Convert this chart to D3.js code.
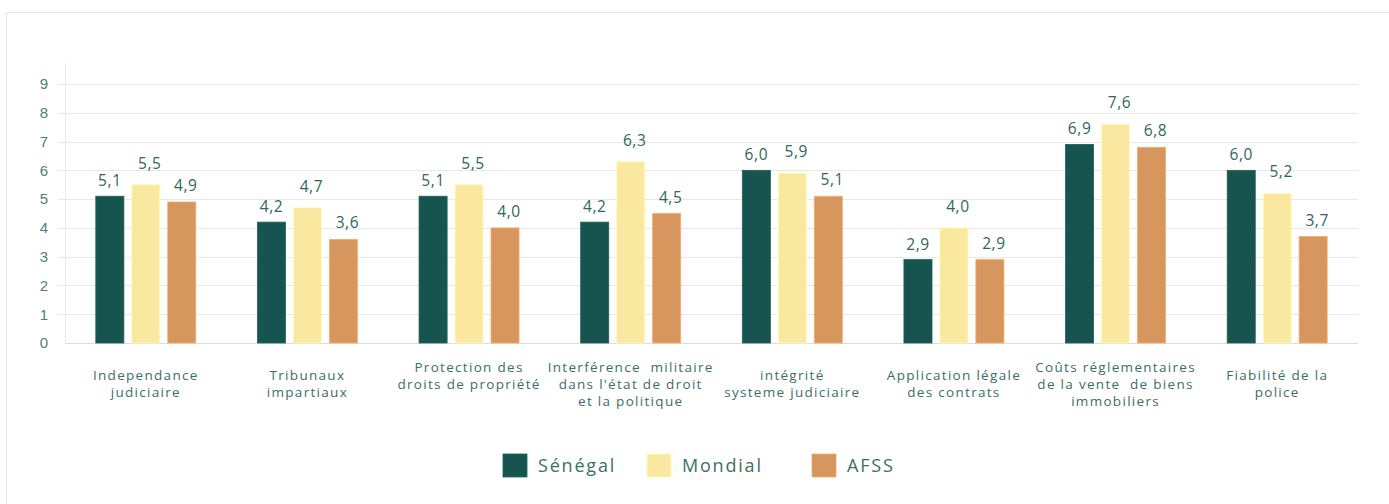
<!DOCTYPE html>
<html lang="fr">
<head>
    <meta charset="UTF-8">
    <title>Indicateurs - Sénégal, Mondial, AFSS</title>
    <script src="https://d3js.org/d3.v7.min.js"></script>
    <style>
        body { margin: 0; background: #fff; }
        svg { display: block; font-family: "Open Sans", sans-serif; }
        text { white-space: pre; }
    </style>
</head>
<body>
<div id="chart"></div>
<script>
    // data
    const categories = [
        ["Independance", "judiciaire"],
        ["Tribunaux", "impartiaux"],
        ["Protection des", "droits de propriété", ""],
        ["Interférence  militaire", "dans l'état de droit", "et la politique"],
        ["intégrité", "systeme judiciaire"],
        ["Application légale", "des contrats"],
        ["Coûts réglementaires", "de la vente  de biens", "immobiliers"],
        ["Fiabilité de la", "police"]
    ];
    const seriesNames = ["Sénégal", "Mondial", "AFSS"];
    const senegal = [5.1, 4.2, 5.1, 4.2, 6.0, 2.9, 6.9, 6.0];
    const mondial = [5.5, 4.7, 5.5, 6.3, 5.9, 4.0, 7.6, 5.2];
    const afss    = [4.9, 3.6, 4.0, 4.5, 5.1, 2.9, 6.8, 3.7];
    const yTicks = [0, 1, 2, 3, 4, 5, 6, 7, 8, 9];

    const colors = ["#18544f", "#fbe8a0", "#d7965d"];
    const labelOffset = [10, 16, 11];   // Excel-ish label placement
    const TEXT = "#3c6e68";

    const W = 1389, H = 504;
    const svg = d3.select("#chart").append("svg")
        .attr("width", W).attr("height", H);

    // card
    svg.append("rect")
        .attr("x", 6.5).attr("y", 12.5)
        .attr("width", W + 20).attr("height", H + 20)
        .attr("fill", "#fff").attr("stroke", "#e4e4e4");

    const left = 65, right = 1358, bottom = 343;
    const y = d3.scaleLinear().domain([0, 9]).range([bottom, 84]);
    const x0 = d3.scaleBand().domain(d3.range(categories.length)).range([left, right]);
    const x1 = d3.scaleBand().domain(seriesNames).range([x0.bandwidth() / 2 - 50, x0.bandwidth() / 2 + 50])
        .paddingInner(0.22);

    // gridlines
    svg.append("g").selectAll("line")
        .data(yTicks.slice(1))
        .join("line")
        .attr("x1", left - 7).attr("x2", right)
        .attr("y1", d => Math.round(y(d)) + 0.5).attr("y2", d => Math.round(y(d)) + 0.5)
        .attr("stroke", "#e8e8e8");

    // y axis
    const yAxis = svg.append("g")
        .attr("transform", `translate(${left},0)`)
        .call(d3.axisLeft(y).tickValues(yTicks).tickSize(0).tickPadding(17));
    yAxis.select(".domain").remove();
    yAxis.selectAll("text").attr("fill", "#4f7f78").style("font-size", "15px");
    svg.append("line")
        .attr("x1", left + 0.5).attr("x2", left + 0.5)
        .attr("y1", y(9.75)).attr("y2", bottom)
        .attr("stroke", "#eaeaea");
    svg.append("line")
        .attr("x1", left).attr("x2", right)
        .attr("y1", bottom + 0.5).attr("y2", bottom + 0.5)
        .attr("stroke", "#dcdcdc");

    const fmt = v => d3.format(".1f")(v).replace(".", ",");
    const allSeries = [senegal, mondial, afss];

    const groups = svg.append("g").selectAll("g")
        .data(categories.map((c, i) => i))
        .join("g")
        .attr("transform", i => `translate(${x0(i)},0)`);

    groups.selectAll("rect")
        .data(i => seriesNames.map((s, k) => ({ s, k, v: allSeries[k][i] })))
        .join("rect")
        .attr("x", d => x1(d.s))
        .attr("y", d => y(d.v))
        .attr("width", x1.bandwidth())
        .attr("height", d => bottom - y(d.v))
        .attr("fill", d => colors[d.k])
        .attr("stroke", d => d3.color(colors[d.k]).brighter(0.4))
        .attr("stroke-width", 0.8);

    groups.selectAll("text.val")
        .data(i => seriesNames.map((s, k) => ({ s, k, v: allSeries[k][i] })))
        .join("text")
        .attr("class", "val")
        .attr("x", d => x1(d.s) + x1.bandwidth() / 2 + (d.k ? 4 : 0))
        .attr("y", d => y(d.v) - labelOffset[d.k])
        .attr("text-anchor", "middle")
        .attr("fill", "#2f6660")
        .style("font-size", "15.5px")
        .style("letter-spacing", "0.6px")
        .text(d => fmt(d.v));

    // category labels
    groups.append("text")
        .attr("text-anchor", "middle")
        .attr("fill", TEXT)
        .style("font-size", "13.5px")
        .style("letter-spacing", "1.3px")
        .each(function (i) {
            const lines = categories[i];
            const t = d3.select(this);
            const first = 384 - (lines.length - 1) * 17 / 2;
            lines.forEach((l, j) => {
                t.append("tspan")
                    .attr("x", x0.bandwidth() / 2)
                    .attr("y", first + j * 17)
                    .attr("dy", "0.35em")
                    .text(l);
            });
        });

    // legend
    const legendX = [503, 647, 812];
    const legend = svg.append("g").selectAll("g")
        .data(seriesNames)
        .join("g")
        .attr("transform", (d, k) => `translate(${legendX[k]},454)`);
    legend.append("rect")
        .attr("width", 24).attr("height", 23)
        .attr("fill", (d, k) => colors[k])
        .attr("stroke", (d, k) => d3.color(colors[k]).brighter(0.4))
        .attr("stroke-width", 0.8);
    legend.append("text")
        .attr("x", 35).attr("y", 12).attr("dy", "0.35em")
        .attr("fill", TEXT)
        .style("font-size", "18px")
        .style("letter-spacing", "1.8px")
        .text(d => d);
</script>
</body>
</html>
